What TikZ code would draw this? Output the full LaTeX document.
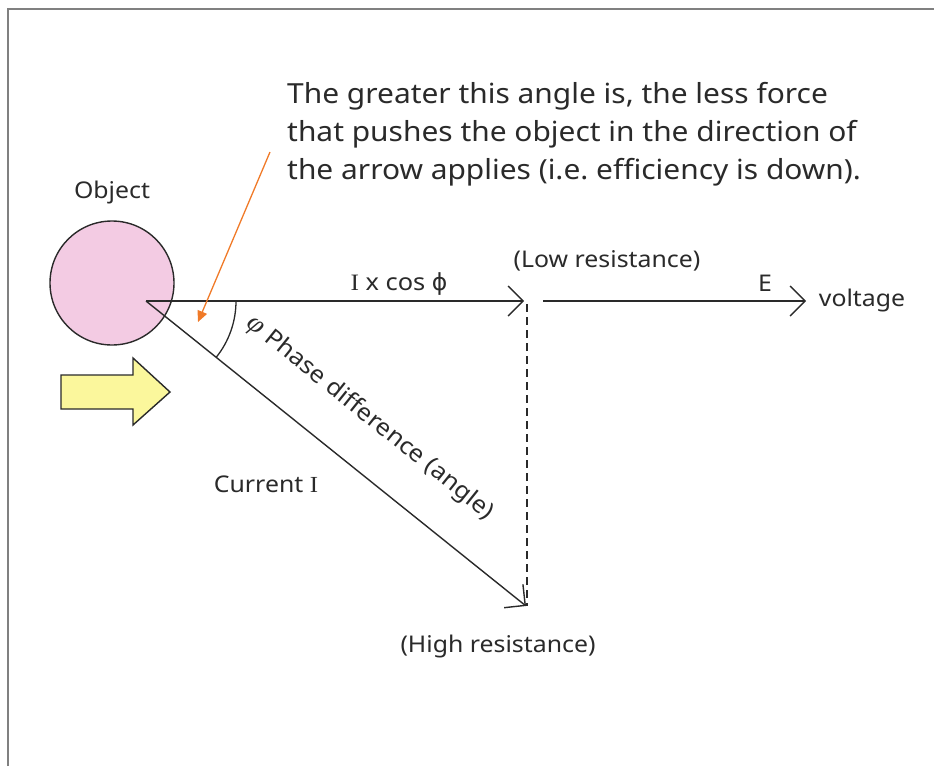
\documentclass[tikz,border=0pt]{standalone}
\usepackage{fontspec}
\setmainfont{Noto Sans}[FakeStretch=1.08]
\newfontfamily\serifI{Liberation Serif}[FakeStretch=1.08]
\newfontfamily\symfont{DejaVu Sans}
\usetikzlibrary{arrows.meta,calc}
\definecolor{ink}{HTML}{2A2A2A}
\definecolor{objpink}{HTML}{F3CBE3}
\definecolor{pushyellow}{HTML}{FBF79C}
\definecolor{note}{HTML}{F07A28}
\frenchspacing
\tikzset{
  vec/.style={draw=ink, line width=1.4pt, -{Straight Barb[length=15pt,width=30pt,line width=1.4pt]}},
  lbl/.style={font=\fontsize{23}{27}\selectfont, text=ink, inner sep=0pt},
  biglbl/.style={font=\fontsize{23.5}{28}\selectfont, text=ink, inner sep=0pt},
  notetext/.style={font=\fontsize{27.7}{38}\selectfont, text=ink, inner sep=0pt, align=left},
}
\begin{document}
\begin{tikzpicture}[x=1pt,y=-1pt]
\useasboundingbox (0,0) rectangle (934,766);
% frame
\draw[gray, line width=1.5pt] (8,766) -- (8,9) -- (934,9);

% object
\node[draw=ink, fill=objpink, circle, minimum size=124pt, line width=1.4pt, inner sep=0pt] (obj) at (112,283) {};
\node[lbl] (objlbl) at (112,193) {Object};

% push arrow
\draw[draw=ink, fill=pushyellow, line width=1.4pt]
  (61,375) -- (133,375) -- (133,358) -- (170,392) -- (133,425) -- (133,409) -- (61,409) -- cycle;

% key points
\coordinate (O) at (146,301);
\coordinate (A) at (524,301);
\coordinate (Atop) at (527,304);
\coordinate (C) at (526,606);
\coordinate (Cdash) at (527,606);
\coordinate (E0) at (543,301);
\coordinate (E1) at (806,301);

% dashed projection
\draw[draw=ink, line width=1.2pt, dash pattern=on 8pt off 5pt] (Atop) -- (Cdash);

% vectors
\draw[vec] (O) -- (A);
\draw[vec] (O) -- (C);
\draw[vec] (E0) -- (E1);

% angle arc
\draw[draw=ink, line width=1.3pt] ($(O)+(90,0)$) arc[start angle=0, end angle=38.8, radius=90];

% labels
\node[biglbl] (icos) at (399,284) {{\serifI I} x cos {\symfont ϕ}};
\node[lbl] (low) at (607,261) {(Low resistance)};
\node[lbl] (Elbl) at (765,283) {E};
\node[lbl] (volt) at (862,301) {voltage};
\node[lbl] (cur) at (266,484) {Current {\serifI I}};
\node[lbl] (high) at (498,647) {(High resistance)};
\node[biglbl, anchor=west, rotate=-38.8] (phase) at (249,321) {{\serifI\itshape\fontsize{27}{30}\selectfont φ} Phase difference (angle)};

% note
\node[notetext, anchor=north west] (note) at (287,82) {The greater this angle is, the less force\\that pushes the object in the direction of\\the arrow applies (i.e. efficiency is down).};
\coordinate (nstart) at (270,152);
\coordinate (nend) at (198,322);
\draw[draw=note, line width=1.3pt, -{Triangle[length=11pt,width=10pt]}] (nstart) -- (nend);
\end{tikzpicture}
\end{document}
